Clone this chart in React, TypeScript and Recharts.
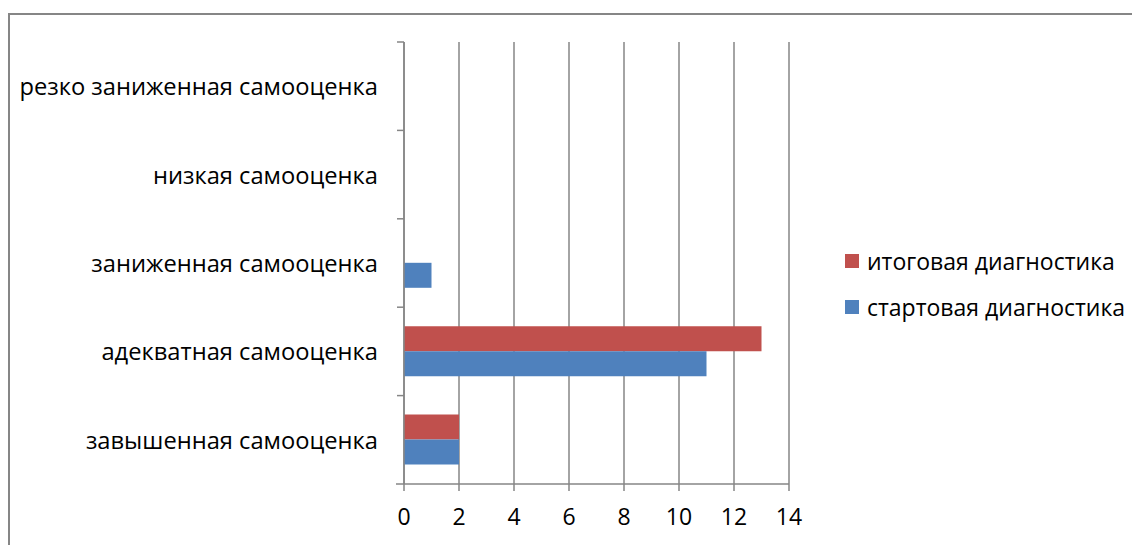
import React from "react";
import { BarChart, Bar, XAxis, YAxis, CartesianGrid } from "recharts";

const categories = [
  "резко заниженная самооценка",
  "низкая самооценка",
  "заниженная самооценка",
  "адекватная самооценка",
  "завышенная самооценка",
];
const finalValues = [0, 0, 0, 13, 2];
const startValues = [0, 0, 1, 11, 2];
const xTicks = [0, 2, 4, 6, 8, 10, 12, 14];

const RED = "#C0504D";
const BLUE = "#4F81BD";
const GRAY = "#868686";
const FONT = "'Open Sans', sans-serif";

const series = [
  { key: "final", name: "итоговая диагностика", color: RED },
  { key: "start", name: "стартовая диагностика", color: BLUE },
];

const W = 1132;
const H = 537;
const TOP = 34;
const PLOT_LEFT = 396;
const PLOT_BOTTOM = 476;
const BAND = (PLOT_BOTTOM - TOP) / categories.length;

const data = categories.map((name, i) => ({
  name,
  final: finalValues[i],
  start: startValues[i],
}));

function CategoryTick(props: any) {
  const { y, payload, index } = props;
  const top = y - BAND / 2;
  return (
    <g>
      <line x1={PLOT_LEFT - 7} x2={PLOT_LEFT} y1={top} y2={top} stroke={GRAY} strokeWidth={1.5} />
      {index === categories.length - 1 && (
        <line x1={PLOT_LEFT - 8} x2={PLOT_LEFT} y1={y + BAND / 2} y2={y + BAND / 2} stroke={GRAY} strokeWidth={1.5} />
      )}
      <text
        x={PLOT_LEFT - 26}
        y={y}
        textAnchor="end"
        dominantBaseline="central"
        fill="#000"
        fontSize={23.7}
        fontFamily={FONT}
      >
        {payload.value}
      </text>
    </g>
  );
}

export default function App() {
  return (
    <div style={{ position: "relative", width: W, height: H }}>
      <div
        style={{
          position: "absolute",
          left: 0,
          top: 5,
          width: W,
          height: H,
          borderTop: `2px solid ${GRAY}`,
          borderLeft: `2px solid ${GRAY}`,
        }}
      />
      <BarChart
        width={W}
        height={H}
        data={data}
        layout="vertical"
        margin={{ top: TOP, right: W - 781, bottom: 0, left: 0 }}
        barSize={25}
        barGap={0}
        style={{ position: "absolute", left: 0, top: 0 }}
      >
        <CartesianGrid horizontal={false} stroke={GRAY} strokeWidth={1.5} />
        <XAxis
          type="number"
          domain={[0, 14]}
          ticks={xTicks}
          interval={0}
          height={H - PLOT_BOTTOM}
          axisLine={{ stroke: GRAY, strokeWidth: 1.5 }}
          tickLine={{ stroke: GRAY, strokeWidth: 1.5 }}
          tickSize={7}
          tickMargin={18}
          tick={{ fill: "#000", fontSize: 23, fontFamily: FONT }}
        />
        <YAxis
          type="category"
          dataKey="name"
          width={PLOT_LEFT}
          axisLine={{ stroke: GRAY, strokeWidth: 1.5 }}
          tickLine={false}
          interval={0}
          tick={<CategoryTick />}
        />
        {series.map((s) => (
          <Bar key={s.key} dataKey={s.key} name={s.name} fill={s.color} isAnimationActive={false} />
        ))}
      </BarChart>
      <div
        style={{
          position: "absolute",
          left: 837,
          top: 230,
          fontFamily: FONT,
          fontSize: 23,
        }}
      >
        {series.map((s) => (
          <div key={s.key} style={{ display: "flex", alignItems: "center", height: 46 }}>
            <span style={{ width: 14, height: 14, background: s.color, marginRight: 8, display: "inline-block" }} />
            <span style={{ color: "#000", whiteSpace: "nowrap" }}>{s.name}</span>
          </div>
        ))}
      </div>
    </div>
  );
}
